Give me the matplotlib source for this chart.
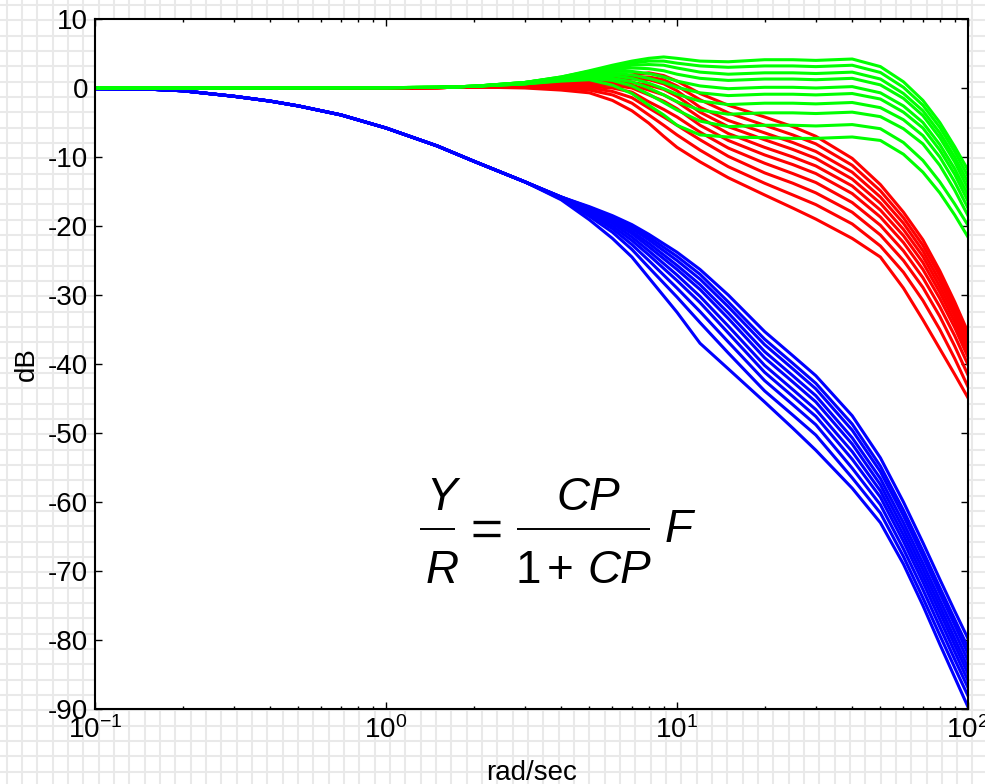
import numpy as np
import matplotlib
matplotlib.use('Agg')
import matplotlib.pyplot as plt
from matplotlib import font_manager as fm
from matplotlib.ticker import FixedLocator, NullFormatter
from matplotlib.patches import Rectangle

plt.rcParams['font.family'] = ['Liberation Sans', 'DejaVu Sans']
plt.rcParams['mathtext.fontset'] = 'custom'
plt.rcParams['mathtext.rm'] = 'Liberation Sans'
plt.rcParams['mathtext.it'] = 'Liberation Sans:italic'
plt.rcParams['mathtext.bf'] = 'Liberation Sans:bold'

# ---------------- data ----------------
# shared low-frequency parts
w_low = [0.1, 1.0, 1.5, 2.0]
green_low = [0.0, 0.05, 0.1, 0.25]
red_low = [0.0, 0.0, 0.05, 0.15]

w_blue_low = [0.1, 0.15, 0.2, 0.3, 0.4, 0.5, 0.7, 1.0, 1.5, 2.0, 3.0]
blue_low = [-0.1, -0.15, -0.4, -1.2, -1.9, -2.6, -3.9, -5.8, -8.4, -10.6, -13.6]

# high-frequency parts, one row per curve
w_high = [3, 4, 5, 6, 7, 8, 9, 10, 12, 15, 20, 25, 30, 40, 50, 60, 70, 80, 90, 100]

green_high = [
    [0.8, 1.6, 2.5, 3.3, 3.9, 4.3, 4.5, 4.3, 3.9, 3.8, 4.1, 4.1, 4.0, 4.2, 3.1, 0.9, -1.8, -5.0, -8.5, -11.9],
    [0.8, 1.6, 2.4, 3.1, 3.6, 3.9, 3.9, 3.6, 3.2, 3.0, 3.2, 3.2, 3.1, 3.3, 2.25, 0.1, -2.5, -5.7, -9.2, -12.8],
    [0.8, 1.5, 2.3, 2.9, 3.3, 3.4, 3.3, 2.9, 2.3, 2.0, 2.2, 2.2, 2.1, 2.3, 1.3, -0.8, -3.3, -6.5, -10.0, -13.7],
    [0.8, 1.5, 2.2, 2.7, 2.9, 2.8, 2.5, 2.0, 1.4, 1.1, 1.3, 1.3, 1.2, 1.4, 0.45, -1.5, -4.0, -7.2, -10.7, -14.6],
    [0.7, 1.4, 2.1, 2.4, 2.4, 2.1, 1.6, 1.0, 0.3, -0.1, 0.1, 0.1, 0.0, 0.2, -0.7, -2.6, -5.0, -8.2, -11.7, -15.5],
    [0.7, 1.4, 1.9, 2.1, 1.9, 1.4, 0.8, 0.1, -0.7, -1.1, -0.9, -0.9, -1.0, -0.8, -1.6, -3.5, -5.8, -9.0, -12.5, -16.4],
    [0.7, 1.3, 1.8, 1.8, 1.4, 0.7, -0.1, -0.9, -1.9, -2.4, -2.2, -2.2, -2.3, -2.1, -2.85, -4.6, -6.9, -10.0, -13.6, -17.4],
    [0.6, 1.2, 1.6, 1.4, 0.9, 0.0, -1.0, -2.0, -3.2, -3.8, -3.6, -3.6, -3.7, -3.5, -4.15, -5.9, -8.1, -11.2, -14.8, -18.5],
    [0.6, 1.1, 1.4, 1.1, 0.3, -0.9, -2.1, -3.2, -4.8, -5.6, -5.4, -5.4, -5.5, -5.3, -5.9, -7.9, -10.5, -13.6, -16.8, -19.9],
    [0.6, 1.0, 1.2, 0.4, -0.8, -2.5, -3.9, -5.4, -6.8, -7.1, -7.2, -7.3, -7.3, -7.1, -7.6, -9.6, -12.2, -15.2, -18.4, -21.6],
]

red_high = [
    [0.4, 0.7, 1.0, 1.5, 1.9, 2.2, 1.8, 1.0, -0.8, -2.5, -4.2, -5.6, -7.0, -10.2, -14.0, -18.0, -22.0, -26.5, -31.0, -35.4],
    [0.4, 0.7, 0.9, 1.3, 1.6, 1.6, 1.2, 0.3, -1.7, -3.6, -5.4, -6.8, -8.1, -11.2, -14.9, -18.8, -22.8, -27.2, -31.7, -36.1],
    [0.3, 0.6, 0.8, 1.1, 1.3, 1.2, 0.6, -0.4, -2.8, -4.7, -6.5, -7.9, -9.2, -12.2, -15.8, -19.6, -23.6, -28.0, -32.4, -36.8],
    [0.3, 0.6, 0.7, 0.9, 0.8, 0.4, -0.2, -1.2, -3.5, -5.6, -7.5, -8.9, -10.2, -13.2, -16.7, -20.5, -24.4, -28.8, -33.1, -37.5],
    [0.3, 0.5, 0.6, 0.7, 0.4, -0.3, -1.0, -2.0, -4.3, -6.6, -8.6, -10.0, -11.3, -14.2, -17.7, -21.4, -25.3, -29.6, -33.9, -38.3],
    [0.2, 0.4, 0.4, 0.4, 0.0, -1.0, -1.9, -3.0, -5.4, -7.6, -9.7, -11.1, -12.4, -15.3, -18.7, -22.4, -26.3, -30.5, -34.7, -39.0],
    [0.2, 0.3, 0.2, 0.0, -0.6, -2.0, -3.1, -4.2, -6.4, -8.7, -10.9, -12.4, -13.7, -16.6, -19.9, -23.6, -27.5, -31.7, -35.9, -40.1],
    [0.1, 0.2, 0.0, -0.5, -1.4, -2.9, -4.2, -5.4, -7.5, -9.9, -12.3, -13.8, -15.2, -18.0, -21.3, -25.0, -28.9, -33.1, -37.4, -41.6],
    [0.1, 0.0, -0.3, -1.0, -2.2, -3.9, -5.4, -6.8, -9.0, -11.4, -13.8, -15.5, -16.9, -19.7, -22.9, -26.7, -30.8, -35.0, -39.2, -43.3],
    [0.0, -0.3, -0.7, -1.8, -3.3, -5.1, -7.0, -8.6, -10.7, -13.0, -15.5, -17.4, -19.0, -21.8, -24.5, -29.0, -33.6, -37.8, -41.5, -44.9],
]

w_blue_high = [4, 5, 6, 7, 8, 10, 12, 15, 20, 25, 30, 40, 50, 60, 70, 80, 90, 100]

blue_high = [
    [-15.8, -17.2, -18.5, -19.8, -21.2, -23.8, -26.3, -30.0, -35.3, -38.8, -41.7, -47.5, -53.6, -60.0, -65.9, -71.2, -75.8, -79.8],
    [-15.8, -17.3, -18.7, -20.1, -21.6, -24.4, -27.0, -31.0, -36.4, -39.9, -42.8, -48.7, -54.8, -61.2, -67.1, -72.4, -77.0, -81.1],
    [-15.8, -17.4, -18.9, -20.4, -22.0, -25.0, -27.7, -31.7, -37.2, -40.7, -43.6, -49.6, -55.6, -62.0, -67.9, -73.2, -77.8, -82.0],
    [-15.8, -17.5, -19.1, -20.8, -22.5, -25.7, -28.5, -32.6, -38.2, -41.7, -44.6, -50.7, -56.6, -63.0, -68.9, -74.2, -78.8, -83.0],
    [-15.9, -17.6, -19.3, -21.1, -23.0, -26.3, -29.2, -33.4, -39.1, -42.6, -45.5, -51.6, -57.5, -63.9, -69.8, -75.1, -79.8, -84.0],
    [-15.9, -17.8, -19.6, -21.6, -23.6, -27.1, -30.2, -34.5, -40.2, -43.7, -46.6, -52.7, -58.4, -64.8, -70.7, -76.0, -80.7, -84.9],
    [-15.9, -18.0, -20.0, -22.1, -24.2, -27.9, -31.1, -35.5, -41.2, -44.7, -47.6, -53.8, -59.3, -65.7, -71.6, -77.0, -81.7, -85.9],
    [-16.0, -18.3, -20.4, -22.7, -25.0, -29.0, -32.4, -36.8, -42.4, -45.9, -48.8, -55.1, -60.4, -66.8, -72.7, -78.1, -82.8, -86.9],
    [-16.1, -18.6, -20.9, -23.4, -26.0, -30.3, -34.0, -38.4, -43.9, -47.4, -50.3, -56.5, -61.6, -67.9, -73.9, -79.3, -84.0, -88.1],
    [-16.2, -19.1, -21.8, -24.5, -27.5, -32.5, -37.0, -40.7, -45.5, -49.3, -52.5, -58.0, -63.0, -69.0, -75.0, -80.6, -85.4, -89.7],
]

y_ticks = [-90, -80, -70, -60, -50, -40, -30, -20, -10, 0, 10]
x_ticks = [0.1, 1, 10, 100]
x_tick_labels = [r'$10^{-1}$', r'$10^{0}$', r'$10^{1}$', r'$10^{2}$']

# ---------------- figure ----------------
W, H = 985, 784
fig = plt.figure(figsize=(W / 100, H / 100), dpi=100)
fig.patch.set_facecolor('white')

# graph-paper background (pixel coordinates, y downwards)
bg = fig.add_axes([0, 0, 1, 1], zorder=-10)
bg.set_xlim(0, W)
bg.set_ylim(H, 0)
bg.axis('off')
for gx in np.arange(6.7, W, 15.33):
    bg.axvline(gx, color='#e9e9e9', lw=1.5)
for gy in np.arange(5.1, H, 15.33):
    bg.axhline(gy, color='#e9e9e9', lw=1.5)
bg.add_patch(Rectangle((373, 0), 595, 13, facecolor='white', edgecolor='none'))

ax = fig.add_axes([95 / W, 1 - 709 / H, (968 - 95) / W, (709 - 19) / H])
ax.set_facecolor('white')
ax.set_xscale('log')

lw = 2.2
for row in blue_high:
    ax.plot(list(w_blue_low) + list(w_blue_high), list(blue_low) + list(row),
            color='#0000ff', lw=lw, solid_joinstyle='round')
for row in red_high:
    ax.plot(list(w_low) + list(w_high), list(red_low) + list(row),
            color='#ff0000', lw=lw, solid_joinstyle='round')
for row in green_high:
    ax.plot(list(w_low) + list(w_high), list(green_low) + list(row),
            color='#00ff00', lw=lw, solid_joinstyle='round')

ax.set_xlim(0.1, 100)
ax.set_ylim(-90, 10)
ax.set_yticks(y_ticks)
ax.set_yticklabels([str(v) for v in y_ticks])
ax.xaxis.set_major_locator(FixedLocator(x_ticks))
ax.set_xticklabels(x_tick_labels)
minor = [m * 10.0 ** e for e in (-1, 0, 1) for m in range(2, 10)]
ax.xaxis.set_minor_locator(FixedLocator(minor))
ax.xaxis.set_minor_formatter(NullFormatter())

ax.tick_params(which='both', direction='in', top=True, right=True,
               labelsize=20, colors='black', width=1.0)
ax.tick_params(which='major', length=5)
ax.tick_params(which='minor', length=2.5)
ax.tick_params(axis='x', which='major', pad=5.5)
ax.tick_params(axis='y', which='major', pad=5)
for s in ax.spines.values():
    s.set_linewidth(1.5)
    s.set_color('black')

ax.set_xlabel('rad/sec', fontsize=20, labelpad=11)
ax.set_ylabel('dB', fontsize=20, labelpad=6)

# ---------------- equation, built piece by piece ----------------
avail = {f.name for f in fm.fontManager.ttflist}
eq_family = 'Liberation Sans Narrow' if 'Liberation Sans Narrow' in avail else 'Liberation Sans'
eq_size = 37 if eq_family == 'Liberation Sans Narrow' else 33

ov = fig.add_axes([0, 0, 1, 1], zorder=20)
ov.set_xlim(0, W)
ov.set_ylim(H, 0)
ov.axis('off')
ov.patch.set_alpha(0)

def put(x, y, s, italic=True):
    ov.text(x, y, s, fontsize=eq_size, family=eq_family,
            style='italic' if italic else 'normal',
            ha='center', va='baseline', color='black')

put(442, 510, 'Y')
put(442, 583, 'R')
ov.plot([420, 455], [529, 529], color='black', lw=1.4, solid_capstyle='butt')
ov.plot([473, 500], [522, 522], color='black', lw=2.4, solid_capstyle='butt')
ov.plot([473, 500], [535, 535], color='black', lw=2.4, solid_capstyle='butt')
put(588, 510, 'CP')
ov.plot([517, 650], [529, 529], color='black', lw=1.4, solid_capstyle='butt')
put(528, 583, '1', italic=False)
put(560, 583, '+', italic=False)
put(619, 583, 'CP')
put(679, 542, 'F')

fig.savefig('out.png', dpi=100, facecolor='white')
